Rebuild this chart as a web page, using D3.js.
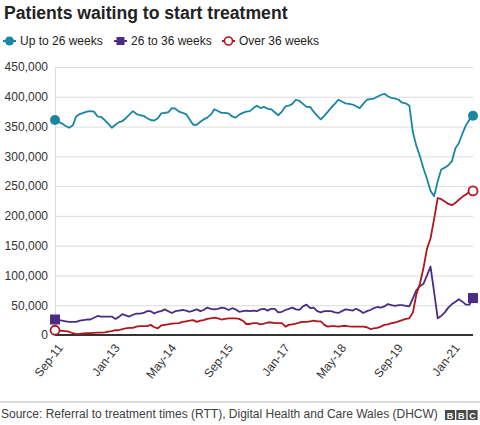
<!DOCTYPE html>
<html><head><meta charset="utf-8">
<script src="https://cdn.jsdelivr.net/npm/d3@7"></script>
<style>
html,body{margin:0;padding:0;background:#fff;}
svg{display:block;font-family:"Liberation Sans",Arial,Helvetica,sans-serif;}
</style></head>
<body><svg id="chart" width="480" height="425"></svg>
<script>
// Monthly data, Sep-11 to Jul-21 (values in thousands of patients)
const firstMonth = "2011-09";
const lastMonth = "2021-07";
const tickLabels = ["Sep-11","Jan-13","May-14","Sep-15","Jan-17","May-18","Sep-19","Jan-21"];
const yTicks = [0,50000,100000,150000,200000,250000,300000,350000,400000,450000];
const seriesNames = ["Up to 26 weeks","26 to 36 weeks","Over 36 weeks"];

const upTo26 = [361,358,355,351,348,352,367,371,373,375,376,375,367,366,361,355,348,353,357,359,
364,370,376,371,369,368,364,361,360,364,372,373,374,381,380,375,373,371,362,353,
353,358,362,365,370,379,376,373,373,372,367,365,370,373,375,376,381,385,381,383,
380,379,374,369,375,384,385,388,395,393,388,383,383,375,368,362,368,375,382,388,
395,392,389,388,387,384,381,388,395,396,397,400,403,405,401,398,397,395,390,389,
385,340,318,300,280,262,242,233,258,278,281,285,292,314,322,338,352,362,368];

const w26to36 = [26,25,24,23,22,22,22,24,25,26,26,29,32,31,31,31,31,27,30,35,
33,31,34,36,36,37,40,40,36,39,40,43,40,37,40,41,42,41,39,41,
43,40,42,46,44,43,44,46,45,42,45,43,39,40,41,40,41,40,43,44,
41,44,44,38,39,42,44,46,43,42,48,51,45,46,40,38,40,40,40,38,
37,40,43,42,41,44,41,37,40,42,45,47,46,48,52,50,49,50,50,49,
48,62,75,82,86,100,115,72,28,32,38,46,52,56,60,56,51,51,62];

const over36 = [8,7.5,7,6.5,5.5,3,1.5,2,2.5,3,3,3.5,4,4,4.5,5.5,6.5,8,8,10,
11,12,12,14,15,15,15,17,13,11,16,17,18,19,19.5,20,22,23,24,25,
22,24,25,27,28,29,28,26,27,28,28,28,27,24,18.5,18.5,20,20,18,19,
21,21,20,20,20,14,17,18,19,21,22,22,23,24,23,23,17,14,15,15,
14,15,15.5,14.5,14,14,14,14,13,10,11,12,14,17,18,20,21,23,25,27,
28,38,68,86,112,145,162,195,230,228,224,220,218,222,227,232,236,240,242];

const colors = ["#1a86a3","#4b2c85","#b0161e"];

const parseM = d3.timeParse("%Y-%m");
const parseLabel = d3.timeParse("%b-%y");
const months = d3.timeMonth.range(parseM(firstMonth), d3.timeMonth.offset(parseM(lastMonth),1));

const svg = d3.select("#chart");
const mLeft = 55, mRight = 473, mTop = 67, mBottom = 335;

const x = d3.scaleTime().domain([months[0], months[months.length-1]]).range([mLeft,mRight]);
const y = d3.scaleLinear().domain([0,450000]).range([mBottom,mTop]);

// Title
svg.append("text").attr("x",4).attr("y",19).attr("font-size","17.6px").attr("font-weight","bold")
  .attr("fill","#222").text("Patients waiting to start treatment");

// Legend
const legendX = [3,114,222];
const legendG = svg.append("g");
seriesNames.forEach((name,i)=>{
  const g = legendG.append("g").attr("transform",`translate(${legendX[i]},41)`);
  g.append("line").attr("x1",0).attr("x2",13).attr("y1",0).attr("y2",0).attr("stroke",colors[i]).attr("stroke-width",2);
  if(i===0) g.append("circle").attr("cx",6.5).attr("cy",0).attr("r",4.5).attr("fill",colors[i]);
  if(i===1) g.append("rect").attr("x",2.5).attr("y",-4).attr("width",8).attr("height",8).attr("fill",colors[i]);
  if(i===2) g.append("circle").attr("cx",6.5).attr("cy",0).attr("r",4).attr("fill","#fff").attr("stroke",colors[i]).attr("stroke-width",1.6);
  g.append("text").attr("x",17).attr("y",4.3).attr("font-size","12px").attr("fill","#222").text(name);
});

// Gridlines and y axis
const yAxis = d3.axisLeft(y).tickValues(yTicks).tickSize(-(mRight-mLeft)).tickFormat(d3.format(","));
const yg = svg.append("g").attr("transform",`translate(${mLeft},0)`).call(yAxis);
yg.select(".domain").attr("stroke","#dcdcdc");
yg.selectAll(".tick line").attr("stroke","#dcdcdc");
yg.selectAll(".tick text").attr("x",-7).attr("font-size","12px").attr("fill","#333")
  .attr("font-family","Liberation Sans,Arial,sans-serif");

// Baseline
svg.append("line").attr("x1",mLeft).attr("x2",mRight).attr("y1",y(0)).attr("y2",y(0))
  .attr("stroke","#333").attr("stroke-width",2);

// X axis labels
const xAxis = d3.axisBottom(x).tickValues(tickLabels.map(parseLabel)).tickSize(0).tickFormat(d3.timeFormat("%b-%y"));
const xg = svg.append("g").attr("transform",`translate(0,${mBottom})`).call(xAxis);
xg.select(".domain").remove();
xg.selectAll(".tick text").attr("font-size","12px").attr("fill","#333")
  .attr("font-family","Liberation Sans,Arial,sans-serif")
  .attr("text-anchor","end").attr("y",0).attr("dy","0")
  .attr("transform","translate(8,13) rotate(-52)");

// Lines
const allSeries = [upTo26, w26to36, over36];
const line = d3.line().x((d,i)=>x(months[i])).y(d=>y(d*1000));
allSeries.forEach((s,i)=>{
  svg.append("path").datum(s).attr("d",line).attr("fill","none")
    .attr("stroke",colors[i]).attr("stroke-width",1.8).attr("stroke-linejoin","round");
});

// End markers
const n = months.length-1;
[0,n].forEach(idx=>{
  svg.append("circle").attr("cx",x(months[idx])).attr("cy",y(upTo26[idx]*1000)).attr("r",5).attr("fill",colors[0]);
  svg.append("rect").attr("x",x(months[idx])-5).attr("y",y(w26to36[idx]*1000)-5).attr("width",10).attr("height",10).attr("fill",colors[1]);
  svg.append("circle").attr("cx",x(months[idx])).attr("cy",y(over36[idx]*1000)).attr("r",4.5)
    .attr("fill","#fff").attr("stroke",colors[2]).attr("stroke-width",1.8);
});

// Footer
svg.append("line").attr("x1",0).attr("x2",480).attr("y1",402).attr("y2",402).attr("stroke","#cfcfcf").attr("stroke-width",1.5);
svg.append("text").attr("x",1).attr("y",418).attr("font-size","12px").attr("fill","#404040")
  .text("Source: Referral to treatment times (RTT), Digital Health and Care Wales (DHCW)");
const logo = svg.append("g").attr("transform","translate(445,410)");
["B","B","C"].forEach((c,i)=>{
  logo.append("rect").attr("x",i*11.3).attr("y",0).attr("width",10).attr("height",10).attr("fill","#4a4a4a");
  logo.append("text").attr("x",i*11.3+5).attr("y",8.6).attr("text-anchor","middle").attr("font-size","9px")
    .attr("font-weight","bold").attr("fill","#fff").text(c);
});
</script></body></html>
